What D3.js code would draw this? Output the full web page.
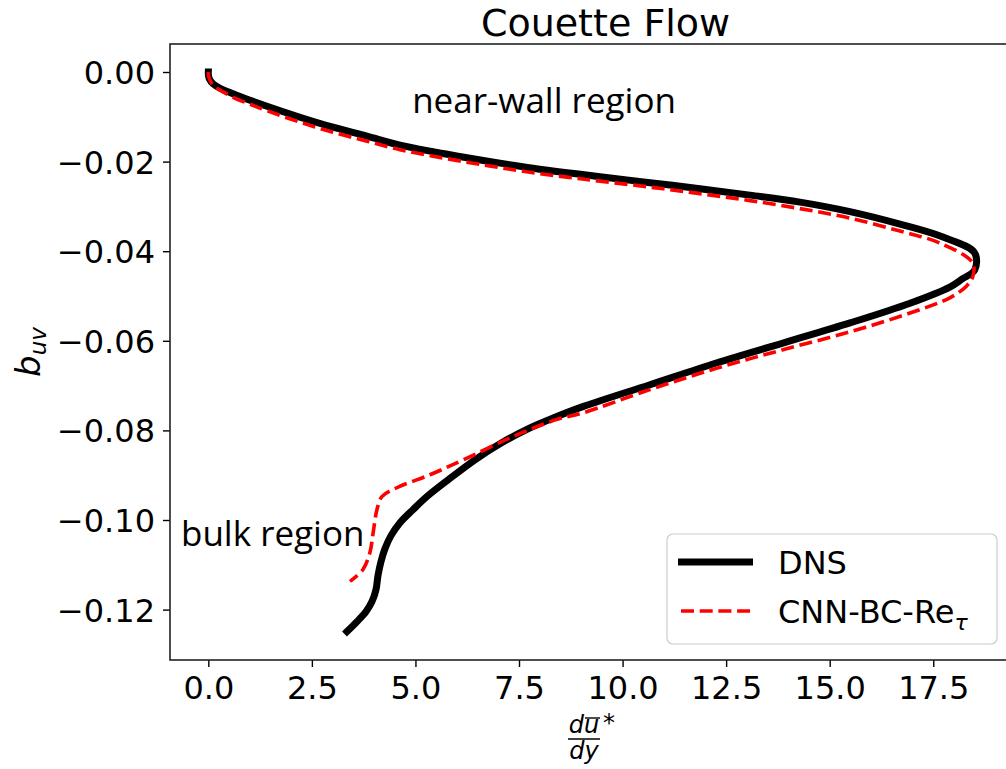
<!DOCTYPE html>
<html><head><meta charset="utf-8">
<script src="https://cdn.jsdelivr.net/npm/d3@7"></script>
<style>body{margin:0;background:#fff}svg{display:block}</style>
</head><body><svg id="c" width="1006" height="769"></svg>
<script>
// ---- data ----
const dnsX = [0,0.0024,0.029,0.113,0.282,0.596,1.007,1.417,2.213,3.010,3.830,4.627,5.424,6.245,7.041,7.838,8.658,9.455,10.662,11.868,13.075,14.282,15.489,16.696,17.734,18.50,18.50,18.20,17.90,16.94,15.49,13.87,12.28,10.66,9.04,8.368,7.692,7.041,6.437,5.761,5.302,4.940,4.627,4.410,4.265,4.168,4.096,4.048,3.951,3.806,3.589,3.348];
const dnsY = [0,-0.00074,-0.00163,-0.00263,-0.00363,-0.00486,-0.00631,-0.00765,-0.01010,-0.01233,-0.01433,-0.01634,-0.01779,-0.01913,-0.02035,-0.02147,-0.02247,-0.02336,-0.02470,-0.02604,-0.02748,-0.02904,-0.03116,-0.03395,-0.03684,-0.0404,-0.0442,-0.0462,-0.0480,-0.0516,-0.0560,-0.0605,-0.0649,-0.0698,-0.0747,-0.07708,-0.07976,-0.08299,-0.08656,-0.09123,-0.09458,-0.09770,-0.10060,-0.10349,-0.10639,-0.10929,-0.11241,-0.11553,-0.11821,-0.12044,-0.12267,-0.12490];
const cnnX = [0,0.005,0.041,0.138,0.331,0.596,1.007,1.417,2.213,3.010,3.830,4.627,5.424,6.245,7.041,7.838,8.658,9.455,10.662,11.868,13.075,14.282,15.489,16.696,17.66,18.45,18.45,18.30,17.90,16.94,15.49,13.87,12.28,10.66,9.04,8.40,7.35,6.15,5.35,4.55,4.19,4.07,3.98,3.90,3.73,3.42];
const cnnY = [0,-0.00074,-0.00185,-0.00319,-0.0043,-0.00564,-0.0072,-0.00865,-0.01121,-0.01344,-0.01545,-0.01734,-0.01879,-0.02013,-0.02136,-0.02247,-0.02347,-0.02436,-0.0257,-0.02715,-0.02871,-0.0305,-0.03261,-0.03551,-0.03818,-0.0426,-0.0458,-0.0478,-0.0504,-0.0538,-0.058,-0.062,-0.0661,-0.0709,-0.0761,-0.0776,-0.0814,-0.0866,-0.0899,-0.0928,-0.0948,-0.0977,-0.1028,-0.1073,-0.1111,-0.1137];
const xTicks = [0,2.5,5,7.5,10,12.5,15,17.5];
const yTicks = [0,-0.02,-0.04,-0.06,-0.08,-0.10,-0.12];
const seriesNames = ["DNS","CNN-BC-Re"];
const titleText = "Couette Flow";
const notes = [{t:"near-wall region", x:4.92, y:-0.0092},{t:"bulk region", x:-0.66, y:-0.1058}];

// ---- layout ----
const L=170, R=1013, T=44, B=660;
const x = d3.scaleLinear().domain([-0.925,19.425]).range([L,R]);
const y = d3.scaleLinear().domain([-0.13125,0.00625]).range([B,T]);
const svg = d3.select("#c");
const font = "'DejaVu Sans', sans-serif";

// curves
const line = d3.line().x(d=>x(d[0])).y(d=>y(d[1])).curve(d3.curveCatmullRom.alpha(0.5));
const dns = dnsX.map((v,i)=>[v,dnsY[i]]);
const cnn = cnnX.map((v,i)=>[v,cnnY[i]]);
svg.append("path").attr("d",line(dns)).attr("fill","none").attr("stroke","#000")
  .attr("stroke-width",7).attr("stroke-linejoin","round").attr("stroke-linecap","square");
svg.append("path").attr("d",line(cnn)).attr("fill","none").attr("stroke","#ff0000")
  .attr("stroke-width",3.6).attr("stroke-dasharray","13,5.7").attr("stroke-linejoin","round");

// axes
const xAx = svg.append("g").attr("transform",`translate(0,${B})`)
  .call(d3.axisBottom(x).tickValues(xTicks).tickFormat(d3.format(".1f")).tickSize(7).tickPadding(8));
const yAx = svg.append("g").attr("transform",`translate(${L},0)`)
  .call(d3.axisLeft(y).tickValues(yTicks).tickFormat(d=>d3.format(".2f")(d).replace("-","\u2212")).tickSize(7).tickPadding(8));
[xAx,yAx].forEach(g=>{
  g.select(".domain").remove();
  g.selectAll(".tick line").attr("stroke","#000").attr("stroke-width",1.4);
  g.selectAll(".tick text").attr("font-family",font).attr("font-size",32).attr("fill","#000");
});
yAx.selectAll(".tick text").attr("dy","0.36em");
xAx.selectAll(".tick text").attr("dy","0.76em");
// frame
svg.append("rect").attr("x",L).attr("y",T).attr("width",R-L).attr("height",B-T)
  .attr("fill","none").attr("stroke","#222").attr("stroke-width",1.6);

// annotations
notes.forEach(n=>{
  svg.append("text").attr("x",x(n.x)).attr("y",y(n.y)).text(n.t)
    .attr("font-family","'Open Sans', sans-serif").attr("font-size",35).attr("fill","#000");
});

// title
svg.append("text").attr("x",(L+R)/2+14).attr("y",36).attr("text-anchor","middle")
  .attr("font-family",font).attr("font-size",38).attr("fill","#000").text(titleText);

// y label
const yl = svg.append("text").attr("transform","translate(40,352) rotate(-90)")
  .attr("text-anchor","middle").attr("font-family",font).attr("font-style","italic").attr("font-size",34).attr("fill","#000");
yl.append("tspan").text("b");
yl.append("tspan").attr("font-size",23).attr("dy",6).text("uv");

// x label (fraction)
const fx = 584, fb = 739;
const xl = svg.append("g").attr("font-family",font).attr("font-style","italic").attr("font-size",24).attr("fill","#000");
xl.append("text").attr("x",fx).attr("y",fb-6).attr("text-anchor","middle").text("du");
xl.append("line").attr("x1",fx+1).attr("x2",fx+16).attr("y1",fb-21).attr("y2",fb-21).attr("stroke","#000").attr("stroke-width",1.4);
xl.append("line").attr("x1",fx-16).attr("x2",fx+16).attr("y1",fb).attr("y2",fb).attr("stroke","#000").attr("stroke-width",1.5);
xl.append("text").attr("x",fx).attr("y",fb+20).attr("text-anchor","middle").text("dy");
xl.append("text").attr("x",fx+19).attr("y",fb-8).attr("font-style","normal").text("*");

// legend
const lw=330, lh=110, lx=R-16-lw, ly=B-16-lh;
svg.append("rect").attr("x",lx).attr("y",ly).attr("width",lw).attr("height",lh).attr("rx",6)
  .attr("fill","#fff").attr("fill-opacity",0.8).attr("stroke","#cccccc").attr("stroke-width",1.2);
svg.append("line").attr("x1",lx+11).attr("x2",lx+86).attr("y1",ly+28).attr("y2",ly+28)
  .attr("stroke","#000").attr("stroke-width",7).attr("stroke-linecap","butt");
svg.append("line").attr("x1",lx+14).attr("x2",lx+86).attr("y1",ly+77).attr("y2",ly+77)
  .attr("stroke","#ff0000").attr("stroke-width",3.6).attr("stroke-dasharray","13,5.7");
svg.append("text").attr("x",lx+111).attr("y",ly+40).attr("font-family",font).attr("font-size",32).text(seriesNames[0]);
const t2 = svg.append("text").attr("x",lx+111).attr("y",ly+89).attr("font-family",font).attr("font-size",32);
t2.append("tspan").text(seriesNames[1]);
t2.append("tspan").attr("font-style","italic").attr("font-size",22).attr("dy",7).text("\u03c4");
</script></body></html>
